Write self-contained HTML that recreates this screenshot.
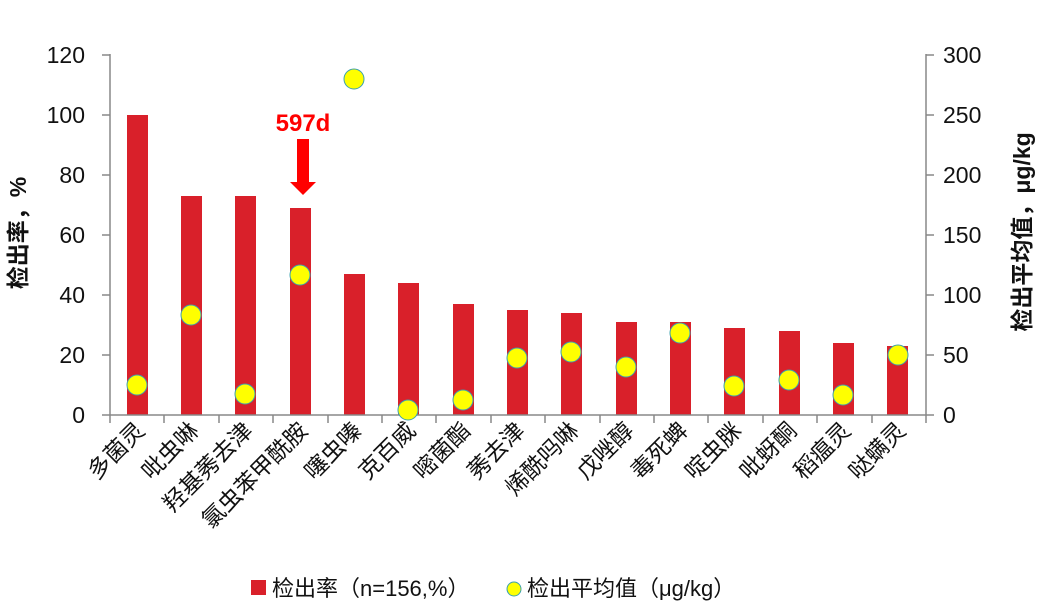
<!DOCTYPE html>
<html><head><meta charset="utf-8"><style>
html,body{margin:0;padding:0;background:#fff;}
svg text{font-family:"Liberation Sans","Noto Sans CJK SC",sans-serif;}
</style></head><body>
<svg width="1039" height="606" viewBox="0 0 1039 606" xmlns="http://www.w3.org/2000/svg">
<g fill="#d9202a">
<rect x="127" y="115" width="21" height="300"/>
<rect x="181" y="196" width="21" height="219"/>
<rect x="235" y="196" width="21" height="219"/>
<rect x="290" y="208" width="21" height="207"/>
<rect x="344" y="274" width="21" height="141"/>
<rect x="398" y="283" width="21" height="132"/>
<rect x="453" y="304" width="21" height="111"/>
<rect x="507" y="310" width="21" height="105"/>
<rect x="561" y="313" width="21" height="102"/>
<rect x="616" y="322" width="21" height="93"/>
<rect x="670" y="322" width="21" height="93"/>
<rect x="724" y="328" width="21" height="87"/>
<rect x="779" y="331" width="21" height="84"/>
<rect x="833" y="343" width="21" height="72"/>
<rect x="887" y="346" width="21" height="69"/>
</g>
<g stroke="#888" stroke-width="1.5" fill="none">
<line x1="110" y1="54" x2="110" y2="415"/>
<line x1="926" y1="54" x2="926" y2="423"/>
<line x1="110" y1="415" x2="926" y2="415"/>
<path d="M102 55H110M102 115H110M102 175H110M102 235H110M102 295H110M102 355H110M102 415H110"/>
<path d="M926 55H934M926 115H934M926 175H934M926 235H934M926 295H934M926 355H934M926 415H934"/>
<path d="M110 415V423M164 415V423M219 415V423M273 415V423M328 415V423M382 415V423M436 415V423M491 415V423M545 415V423M600 415V423M654 415V423M708 415V423M763 415V423M817 415V423M872 415V423"/>
</g>
<g font-size="23" fill="#111" text-anchor="end">
<text x="85" y="63">120</text><text x="85" y="123">100</text><text x="85" y="183">80</text>
<text x="85" y="243">60</text><text x="85" y="303">40</text><text x="85" y="363">20</text><text x="85" y="423">0</text>
</g>
<g font-size="23" fill="#111" text-anchor="start">
<text x="943" y="63">300</text><text x="943" y="123">250</text><text x="943" y="183">200</text>
<text x="943" y="243">150</text><text x="943" y="303">100</text><text x="943" y="363">50</text><text x="943" y="423">0</text>
</g>
<g fill="#ffff00" stroke="#3aa0b0" stroke-width="1">
<circle cx="137" cy="385" r="10"/><circle cx="191" cy="315" r="10"/><circle cx="245" cy="394" r="10"/>
<circle cx="300" cy="275" r="10"/><circle cx="354" cy="79" r="10"/><circle cx="408" cy="410" r="10"/>
<circle cx="463" cy="400" r="10"/><circle cx="517" cy="358" r="10"/><circle cx="571" cy="352" r="10"/>
<circle cx="626" cy="367" r="10"/><circle cx="680" cy="333" r="10"/><circle cx="734" cy="386" r="10"/>
<circle cx="789" cy="380" r="10"/><circle cx="843" cy="395" r="10"/><circle cx="898" cy="355" r="10"/>
</g>
<text x="303" y="131" font-size="24" font-weight="bold" fill="#ff0000" text-anchor="middle">597d</text>
<path d="M297 139H309V182H316L303 195L290 182H297Z" fill="#ff0000"/>
<g font-size="23" fill="#111" text-anchor="end">
<text transform="translate(146,432) rotate(-45)">多菌灵</text>
<text transform="translate(200,432) rotate(-45)">吡虫啉</text>
<text transform="translate(254,432) rotate(-45)">羟基莠去津</text>
<text transform="translate(309,432) rotate(-45)">氯虫苯甲酰胺</text>
<text transform="translate(363,432) rotate(-45)">噻虫嗪</text>
<text transform="translate(417,432) rotate(-45)">克百威</text>
<text transform="translate(472,432) rotate(-45)">嘧菌酯</text>
<text transform="translate(526,432) rotate(-45)">莠去津</text>
<text transform="translate(580,432) rotate(-45)">烯酰吗啉</text>
<text transform="translate(635,432) rotate(-45)">戊唑醇</text>
<text transform="translate(689,432) rotate(-45)">毒死蜱</text>
<text transform="translate(743,432) rotate(-45)">啶虫脒</text>
<text transform="translate(798,432) rotate(-45)">吡蚜酮</text>
<text transform="translate(852,432) rotate(-45)">稻瘟灵</text>
<text transform="translate(907,432) rotate(-45)">哒螨灵</text>
</g>
<text transform="translate(26,233) rotate(-90)" font-size="23" font-weight="bold" text-anchor="middle" fill="#111">检出率，%</text>
<text transform="translate(1030,232) rotate(-90)" font-size="23" font-weight="bold" text-anchor="middle" fill="#111">检出平均值，μg/kg</text>
<rect x="251" y="580" width="15" height="15" fill="#d9202a"/>
<text x="272" y="596" font-size="22" fill="#111">检出率（n=156,%）</text>
<circle cx="514" cy="589" r="7" fill="#ffff00" stroke="#3aa0b0" stroke-width="1"/>
<text x="527" y="596" font-size="22" fill="#111">检出平均值（μg/kg）</text>
</svg>
</body></html>
